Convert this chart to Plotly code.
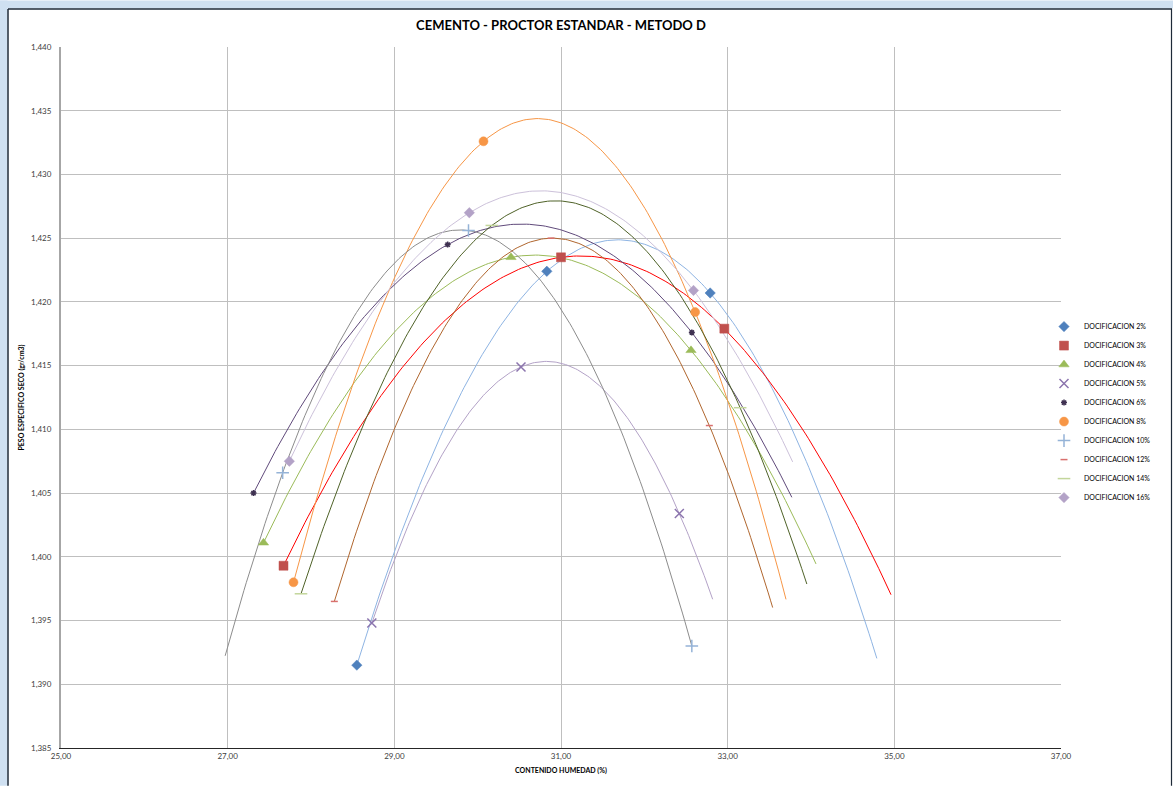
import numpy as np
import plotly.graph_objects as go

# ---- data ----
series_names = ["DOCIFICACION 2%", "DOCIFICACION 3%", "DOCIFICACION 4%", "DOCIFICACION 5%",
                "DOCIFICACION 6%", "DOCIFICACION 8%", "DOCIFICACION 10%", "DOCIFICACION 12%",
                "DOCIFICACION 14%", "DOCIFICACION 16%"]

humedad_2 = [28.55, 30.83, 32.79]
peso_2 = [1.3915, 1.4224, 1.4207]
humedad_3 = [27.67, 31.00, 32.96]
peso_3 = [1.3993, 1.4235, 1.4179]
humedad_4 = [27.43, 30.40, 32.56]
peso_4 = [1.4011, 1.4235, 1.4162]
humedad_5 = [28.73, 30.52, 32.42]
peso_5 = [1.3948, 1.4149, 1.4034]
humedad_6 = [27.31, 29.64, 32.57]
peso_6 = [1.4050, 1.4245, 1.4176]
humedad_8 = [27.79, 30.07, 32.61]
peso_8 = [1.3980, 1.4326, 1.4192]
humedad_10 = [27.66, 29.89, 32.57]
peso_10 = [1.4066, 1.4256, 1.3930]
humedad_12 = [28.28, 30.88, 32.78]
peso_12 = [1.3965, 1.4250, 1.4103]
humedad_14 = [27.88, 30.17, 33.15]
peso_14 = [1.3971, 1.4260, 1.4117]
humedad_16 = [27.74, 29.90, 32.59]
peso_16 = [1.4075, 1.4270, 1.4209]

# polynomial (order 2) trendline span, including Excel forecast extension
trend_start = [28.55, 27.67, 27.43, 28.73, 27.31, 27.79, 26.97, 28.28, 27.88, 27.74]
trend_end = [34.79, 34.96, 34.06, 32.82, 33.77, 33.70, 32.57, 33.54, 33.95, 33.78]

x_ticks = [25, 27, 29, 31, 33, 35, 37]
y_ticks = [1.385, 1.390, 1.395, 1.400, 1.405, 1.410, 1.415, 1.420, 1.425, 1.430, 1.435, 1.440]

humedades = [humedad_2, humedad_3, humedad_4, humedad_5, humedad_6, humedad_8,
             humedad_10, humedad_12, humedad_14, humedad_16]
pesos = [peso_2, peso_3, peso_4, peso_5, peso_6, peso_8, peso_10, peso_12, peso_14, peso_16]

# ---- styles ----
marker_colors = ["#4F81BD", "#C0504D", "#9BBB59", "#8C75AE", "#3F3151", "#F79646",
                 "#95B3D7", "#D9706E", "#C3D69B", "#B3A2C7"]
line_colors = ["#8EB4E3", "#FF0000", "#9BBB59", "#B3A2C7", "#604A7B", "#F79646",
               "#8C8C8C", "#B0662E", "#4F6228", "#CCC1DA"]
symbols = ["diamond", "square", "triangle-up", "x-thin-open", "asterisk-open", "circle",
           "cross-thin-open", "line-ew-open", "line-ew-open", "diamond"]
sizes = [8, 9, 9, 9, 5, 9, 9, 5, 9, 8]

fig = go.Figure()

for i in range(len(series_names)):
    coef = np.polyfit(humedades[i], pesos[i], 2)
    xs = np.linspace(trend_start[i], trend_end[i], 200)
    fig.add_trace(go.Scatter(x=xs, y=np.polyval(coef, xs), mode="lines",
                             line=dict(color=line_colors[i], width=1),
                             showlegend=False, hoverinfo="skip"))

for i in range(len(series_names)):
    sym = symbols[i]
    open_sym = sym.endswith("-open")
    fig.add_trace(go.Scatter(
        x=humedades[i], y=pesos[i], mode="markers", name=series_names[i],
        marker=dict(symbol=sym, size=sizes[i], color=marker_colors[i],
                    line=dict(color=marker_colors[i], width=1.5 if open_sym else 0.5))))

W, H = 1173, 786
L, R, T, B = 61, 1061, 46.5, 748.3


def px(xp):
    return (xp - L) / (R - L)


def py(yp):
    return (B - yp) / (B - T)


frame = "#1E2A38"
shapes = [
    dict(type="rect", xref="paper", yref="paper", x0=px(0), x1=px(W), y0=py(0), y1=py(8),
         fillcolor="#CFE0F1", line=dict(width=0), layer="above"),
    dict(type="rect", xref="paper", yref="paper", x0=px(0), x1=px(7.5), y0=py(0), y1=py(H),
         fillcolor="#CFE0F1", line=dict(width=0), layer="above"),
    dict(type="line", xref="paper", yref="paper", x0=px(8), x1=px(1172), y0=py(8.5), y1=py(8.5),
         line=dict(color=frame, width=1.5), layer="above"),
    dict(type="line", xref="paper", yref="paper", x0=px(8), x1=px(8), y0=py(8.5), y1=py(H),
         line=dict(color=frame, width=1.5), layer="above"),
    dict(type="line", xref="paper", yref="paper", x0=px(1171.5), x1=px(1171.5), y0=py(8.5), y1=py(H),
         line=dict(color=frame, width=1.2), layer="above"),
]

font_family = "Lato, Open Sans, sans-serif"

fig.update_layout(
    width=W, height=H,
    margin=dict(l=L, r=W - R, t=T, b=H - B, pad=0),
    paper_bgcolor="white", plot_bgcolor="white",
    separators=",.",
    title=dict(text="<b>CEMENTO - PROCTOR ESTANDAR - METODO D</b>", x=0.5, xref="paper",
               xanchor="center", y=1 - 25 / H, yanchor="middle",
               font=dict(family=font_family, size=13, color="#000000")),
    font=dict(family=font_family, size=8, color="#404040"),
    xaxis=dict(range=[25, 37], tickvals=x_ticks, tickformat=".2f", automargin=False,
               showgrid=True, gridcolor="#BFBFBF", gridwidth=1,
               zeroline=False, showline=True, linecolor="#262626", linewidth=1.2,
               ticks="", tickfont=dict(size=8, color="#404040"),
               title=dict(text="<b>CONTENIDO HUMEDAD (%)</b>", standoff=8,
                          font=dict(size=7, color="#000000"))),
    yaxis=dict(range=[1.385, 1.440], tickvals=y_ticks, tickformat=".3f", automargin=False,
               showgrid=True, gridcolor="#BFBFBF", gridwidth=1,
               zeroline=False, showline=True, linecolor="#A6A6A6", linewidth=2,
               ticks="", ticklabelstandoff=6, tickfont=dict(size=8, color="#404040"),
               title=dict(text="<b>PESO ESPECIFICO SECO (gr/cm3)</b>", standoff=6,
                          font=dict(size=7, color="#000000"))),
    legend=dict(x=px(1044), xanchor="left", y=py(412), yanchor="middle",
                font=dict(size=7, color="#000000"), bgcolor="rgba(0,0,0,0)",
                itemwidth=30, tracegroupgap=0),
    shapes=shapes,
    showlegend=True,
)

fig.write_html("out.html", config={"displayModeBar": False},
               post_script="document.body.style.margin='0';document.body.style.overflow='hidden';")
